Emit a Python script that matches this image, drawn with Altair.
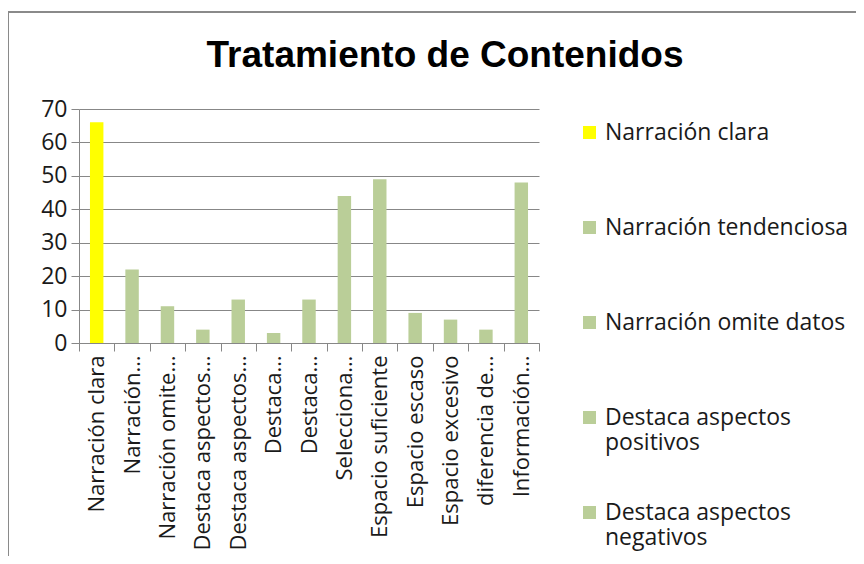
import json
import altair as alt
import pandas as pd

# ---- data ----
categories = [
    "Narración clara", "Narración tendenciosa", "Narración omite datos",
    "Destaca aspectos positivos", "Destaca aspectos negativos",
    "Destaca protagonistas", "Destaca circunstancias",
    "Selecciona información relevante", "Espacio suficiente",
    "Espacio escaso", "Espacio excesivo", "diferencia de opiniones",
    "Información complementaria",
]
tick_labels = [
    "Narración clara", "Narración…", "Narración omite…", "Destaca aspectos…",
    "Destaca aspectos…", "Destaca…", "Destaca…", "Selecciona…",
    "Espacio suficiente", "Espacio escaso", "Espacio excesivo",
    "diferencia de…", "Información…",
]
values = [66, 22, 11, 4, 13, 3, 13, 44, 49, 9, 7, 4, 48]
bar_colors = ["#FFFF00"] + ["#BACE98"] * 12
legend_entries = categories[:5]
y_ticks = [0, 10, 20, 30, 40, 50, 60, 70]

df = pd.DataFrame({"categoria": categories, "valor": values})

x_label_expr = (
    f"{json.dumps(tick_labels, ensure_ascii=False)}"
    f"[indexof({json.dumps(categories, ensure_ascii=False)}, datum.value)]"
)
# every legend label is two lines tall so that the rows are evenly spaced
legend_label_expr = (
    "indexof(datum.label, 'Destaca aspectos ') == 0 ? "
    "['Destaca aspectos', substring(datum.label, 17)] : [datum.label, '']"
)

FONT = "Open Sans"
FS = 23
GRID = "#878787"

bars = alt.Chart(df).mark_bar(width=alt.RelativeBandSize(0.38)).encode(
    x=alt.X(
        "categoria:N",
        sort=categories,
        scale=alt.Scale(paddingInner=0, paddingOuter=0),
        axis=alt.Axis(
            title=None,
            labelAngle=-90,
            labelExpr=x_label_expr,
            labelFont=FONT,
            labelFontSize=22,
            labelColor="#1a1a1a",
            labelPadding=4,
            labelLimit=300,
            tickBand="extent",
            tickSize=8,
            tickColor=GRID,
            domainColor=GRID,
            grid=False,
        ),
    ),
    y=alt.Y(
        "valor:Q",
        scale=alt.Scale(domain=[0, 70], nice=False),
        axis=alt.Axis(
            title=None,
            values=y_ticks,
            labelFont=FONT,
            labelFontSize=FS,
            labelColor="#1a1a1a",
            labelPadding=4,
            tickSize=8,
            tickColor=GRID,
            domainColor=GRID,
            gridColor=GRID,
        ),
    ),
    color=alt.Color(
        "categoria:N",
        scale=alt.Scale(domain=categories, range=bar_colors),
        legend=alt.Legend(
            title=None,
            values=legend_entries,
            orient="none",
            legendX=499,
            legendY=12,
            padding=0,
            symbolType="square",
            symbolSize=169,
            symbolStrokeWidth=0,
            symbolOpacity=1,
            labelFont=FONT,
            labelFontSize=FS,
            labelColor="#1a1a1a",
            labelOffset=4,
            labelLimit=300,
            labelExpr=legend_label_expr,
            rowPadding=46,
        ),
    ),
)

frame = alt.Chart(pd.DataFrame({"f": [0]})).mark_rect(
    fillOpacity=0, stroke="#8a8a8a", strokeWidth=2
).encode(
    x=alt.value(-71), y=alt.value(-97), x2=alt.value(900), y2=alt.value(700)
)

chart = alt.layer(frame, bars).properties(
    width=460,
    height=234,
    title=alt.Title(
        "Tratamiento de Contenidos",
        font="Liberation Sans",
        fontSize=37,
        fontWeight="bold",
        color="#000000",
        anchor="middle",
        frame="group",
        dx=136,
        baseline="alphabetic",
        offset=-93,
    ),
    autosize=alt.AutoSizeParams(type="none"),
    padding={"left": 71, "top": 101, "right": 317, "bottom": 213},
).configure_view(stroke=None)

chart.save("out.html", embed_options={"renderer": "svg", "actions": False})
